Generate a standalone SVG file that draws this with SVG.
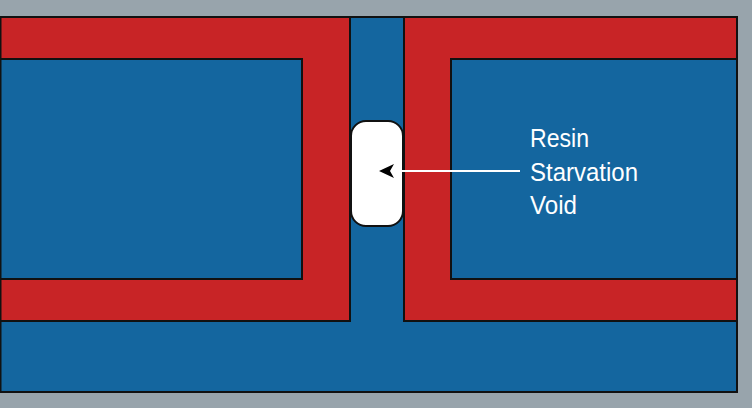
<svg xmlns="http://www.w3.org/2000/svg" width="752" height="408" viewBox="0 0 752 408">
<defs>
<style>
.blue{fill:#14669f;stroke:#111;stroke-width:2}
.red{fill:#c82426;stroke:#111;stroke-width:2}
.lbl{font-family:"Liberation Sans",Arial,sans-serif;font-size:26px;fill:#fff}
</style>
<marker id="ah" markerWidth="16" markerHeight="14" viewBox="0 0 16 14" refX="15" refY="7" orient="auto" markerUnits="userSpaceOnUse">
<path d="M15,7 L0,0 L4,7 L0,14 Z" fill="#000"/>
</marker>
</defs>
<rect x="0" y="0" width="752" height="408" fill="#98a4ac"/>
<g id="laminate">
<rect class="blue" x="0.5" y="17" width="736.5" height="375"/>
</g>
<g id="left-ply">
<path class="red" d="M0.5,17 H350 V321 H0.5 Z"/>
<rect class="blue" x="0.5" y="59" width="301.5" height="220"/>
</g>
<g id="right-ply">
<path class="red" d="M404,17 H737 V321 H404 Z"/>
<rect class="blue" x="451" y="59" width="286" height="220"/>
</g>
<g id="void">
<rect x="351" y="121" width="52" height="105" rx="15" ry="15" fill="#fff" stroke="#111" stroke-width="2"/>
</g>
<g id="connectors">
<line x1="520" y1="171" x2="379" y2="171" stroke="#fff" stroke-width="2" marker-end="url(#ah)"/>
</g>
<g id="label">
<text class="lbl" x="530" y="147" textLength="59" lengthAdjust="spacingAndGlyphs">Resin</text>
<text class="lbl" x="530" y="181" textLength="108" lengthAdjust="spacingAndGlyphs">Starvation</text>
<text class="lbl" x="530" y="214" textLength="47" lengthAdjust="spacingAndGlyphs">Void</text>
</g>
</svg>
